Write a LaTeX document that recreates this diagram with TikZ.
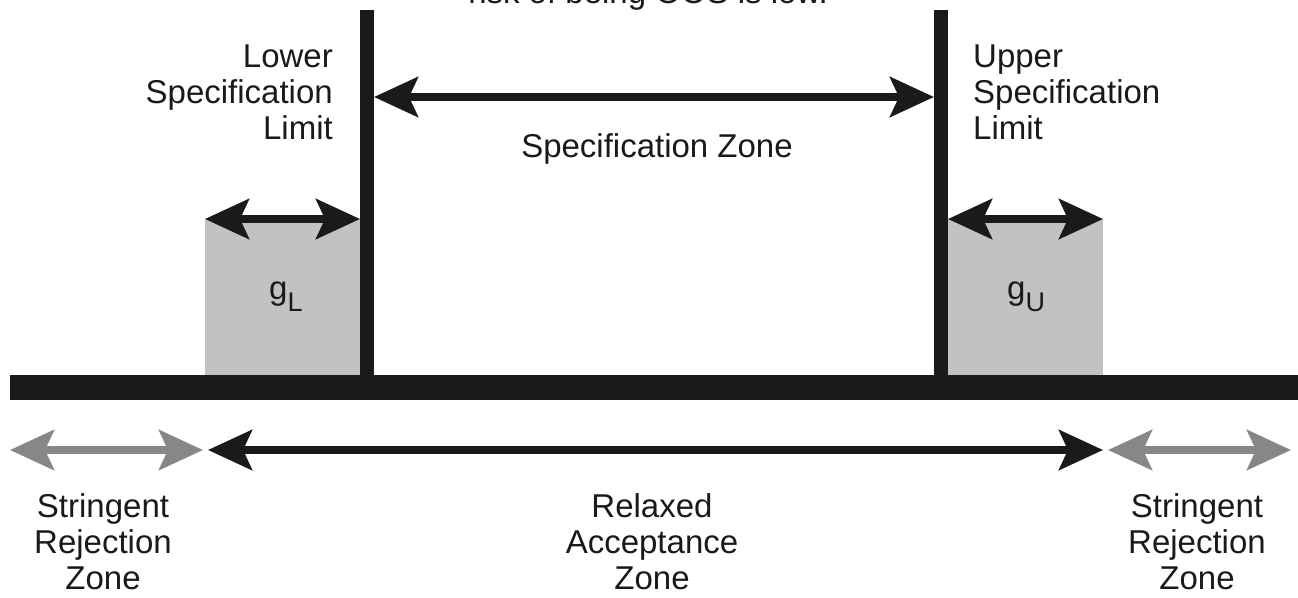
\documentclass[tikz,border=0pt]{standalone}
\usepackage{fontspec}
\setmainfont{Liberation Sans}
\usetikzlibrary{arrows.meta}

\definecolor{ink}{HTML}{1A1A1A}
\definecolor{shade}{HTML}{C2C2C2}
\definecolor{greytip}{HTML}{878787}

\newcommand{\gapsub}[1]{\raisebox{-12pt}{\fontsize{27}{27}\selectfont #1}}

\begin{document}
\begin{tikzpicture}[x=1pt,y=-1pt,
  lbl/.style={font=\fontsize{33}{36}\selectfont, text=ink, inner sep=0pt},
  dblarrow/.style={line width=7.5pt, {Stealth[length=44pt,width=40pt,inset=9pt]}-{Stealth[length=44pt,width=40pt,inset=9pt]}},
  blackarrow/.style={dblarrow, draw=ink, fill=ink},
  greyarrow/.style={dblarrow, draw=greytip, fill=greytip},
  bar/.style={fill=ink, draw=none},
  gapbox/.style={fill=shade, draw=none}]

\useasboundingbox (0,0) rectangle (1298,597);

% caption line running off the top edge
\node[lbl, anchor=base] (caption) at (648,4) {risk of being OOS is low.};

% guard-band boxes
\fill[gapbox] (205,219) rectangle (360,375);
\fill[gapbox] (948,219) rectangle (1103,375);

% limits and measurement axis
\fill[bar] (360,10) rectangle (374,375);
\fill[bar] (934,10) rectangle (948,375);
\fill[bar] (10,375) rectangle (1298,400);

% arrow end points
\coordinate (szL) at (374,97);
\coordinate (szR) at (934,97);
\coordinate (gLa) at (205,219);
\coordinate (gLb) at (360,219);
\coordinate (gUa) at (948,219);
\coordinate (gUb) at (1103,219);
\coordinate (rL1) at (10,450);
\coordinate (rL2) at (203,450);
\coordinate (ac1) at (208,450);
\coordinate (ac2) at (1103,450);
\coordinate (rR1) at (1108,450);
\coordinate (rR2) at (1291,450);

\draw[blackarrow] (szL) -- (szR);
\draw[blackarrow] (gLa) -- (gLb);
\draw[blackarrow] (gUa) -- (gUb);
\draw[greyarrow] (rL1) -- (rL2);
\draw[blackarrow] (ac1) -- (ac2);
\draw[greyarrow] (rR1) -- (rR2);

% labels
\node[lbl, align=right, anchor=north east] (lsl) at (333,45) {Lower\\Specification\\Limit};
\node[lbl, align=left, anchor=north west] (usl) at (973,45) {Upper\\Specification\\Limit};
\node[lbl, anchor=base] (spz) at (657,157) {Specification Zone};
\node[lbl, anchor=base west] (gl) at (269,299) {g\gapsub{L}};
\node[lbl, anchor=base west] (gu) at (1007,299) {g\gapsub{U}};
\node[lbl, align=center, anchor=north] (srl) at (103,493) {Stringent\\Rejection\\Zone};
\node[lbl, align=center, anchor=north] (raz) at (652,493) {Relaxed\\Acceptance\\Zone};
\node[lbl, align=center, anchor=north] (srr) at (1197,493) {Stringent\\Rejection\\Zone};

\end{tikzpicture}
\end{document}
